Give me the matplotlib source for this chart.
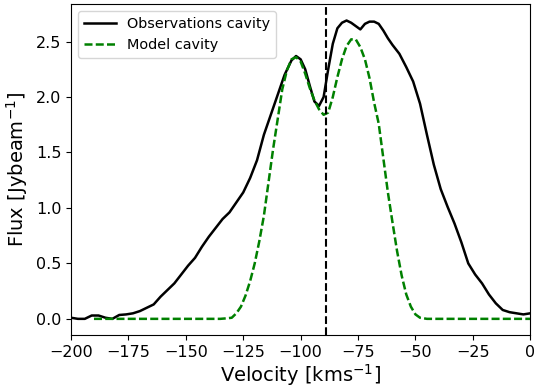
import matplotlib
matplotlib.use('Agg')
import matplotlib.pyplot as plt

vel_obs = [-200, -197, -194, -191, -188, -185, -182, -179, -176, -173, -170, -167,
           -164, -161, -158, -155, -152, -149, -146, -143, -140, -137, -134, -131,
           -128, -125, -122, -119, -116, -113, -110, -107, -104, -102, -100, -98,
           -96, -94, -92, -90, -88, -86, -84, -82, -80, -78, -76, -74, -72, -70,
           -68, -66, -64, -62, -60, -57, -54, -51, -48, -45, -42, -39, -36, -33,
           -30, -27, -24, -21, -18, -15, -12, -9, -6, -3, 0]
flux_obs = [0.01, 0.0, 0.0, 0.03, 0.03, 0.01, 0.0, 0.035, 0.04, 0.05, 0.07, 0.10,
            0.13, 0.20, 0.26, 0.32, 0.40, 0.48, 0.55, 0.65, 0.74, 0.82, 0.90, 0.96,
            1.05, 1.14, 1.27, 1.43, 1.66, 1.84, 2.02, 2.20, 2.33, 2.37, 2.34, 2.25,
            2.10, 1.96, 1.92, 2.00, 2.25, 2.48, 2.62, 2.67, 2.69, 2.67, 2.64, 2.61,
            2.66, 2.68, 2.68, 2.66, 2.60, 2.53, 2.47, 2.39, 2.27, 2.14, 1.94, 1.66,
            1.39, 1.17, 1.01, 0.86, 0.69, 0.50, 0.40, 0.32, 0.22, 0.14, 0.08, 0.06,
            0.05, 0.04, 0.05]

# Model spectrum
vel_mod = [-190, -180, -170, -160, -150, -140, -135, -132, -130, -128, -126, -124,
           -122, -120, -118, -116, -114, -112, -110, -108, -106, -104, -102, -100,
           -98, -96, -94, -92, -90, -88, -86, -84, -82, -80, -78, -76, -74, -72,
           -70, -68, -66, -64, -62, -60, -58, -56, -54, -52, -50, -48, -45, -40,
           -30, -20, -10, 0]
flux_mod = [0.0, 0.0, 0.0, 0.0, 0.0, 0.0, 0.0, 0.005, 0.01, 0.05, 0.11, 0.21,
            0.34, 0.50, 0.70, 0.93, 1.23, 1.53, 1.80, 2.07, 2.24, 2.34, 2.36, 2.32,
            2.21, 2.08, 1.97, 1.89, 1.84, 1.86, 2.00, 2.18, 2.34, 2.46, 2.52, 2.52,
            2.45, 2.34, 2.17, 1.95, 1.76, 1.45, 1.14, 0.87, 0.61, 0.39, 0.22, 0.11,
            0.04, 0.01, 0.0, 0.0, 0.0, 0.0, 0.0, 0.0]

v_sys = -89

fig = plt.figure(figsize=(5.34, 3.89), dpi=100)
ax = fig.add_axes([0.133, 0.139, 0.86, 0.851])

ax.plot(vel_obs, flux_obs, color='black', lw=1.8, label='Observations cavity')
ax.plot(vel_mod, flux_mod, color='green', lw=1.8, dashes=(3.2, 1.3), label='Model cavity')
ax.axvline(v_sys, color='black', lw=1.5, linestyle='--')

ax.set_xlim(-200, 0)
ax.set_ylim(-0.145, 2.84)
ax.set_xlabel(r'Velocity [kms$^{-1}$]', fontsize=14, labelpad=2)
ax.set_ylabel(r'Flux [Jybeam$^{-1}$]', fontsize=14)
ax.tick_params(labelsize=11.5)
ax.legend(loc='upper left', fontsize=10.4, handlelength=2.2)

fig.savefig('out.png', dpi=100)
